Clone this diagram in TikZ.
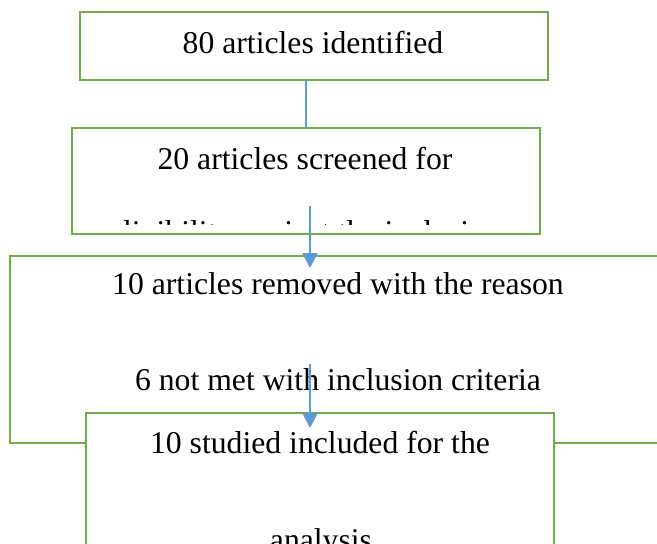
\documentclass[tikz,border=0pt]{standalone}
\usepackage{fontspec}
\setmainfont{Liberation Serif}
\usetikzlibrary{arrows.meta}
\definecolor{boxgreen}{RGB}{112,173,71}
\definecolor{arrowblue}{RGB}{91,155,213}
\tikzset{
  box/.style={draw=boxgreen,line width=2.5pt,fill=white,inner sep=0pt,outer sep=0pt},
  txt/.style={anchor=base,inner sep=0pt,font=\fontsize{31.7}{38}\selectfont},
  link/.style={arrowblue,line width=2.2pt,shorten <=1.25pt,shorten >=1.25pt},
  flow/.style={arrowblue,line width=2.2pt,-{Triangle[width=15pt,length=15pt]}}
}
\begin{document}
\begin{tikzpicture}[x=1pt,y=-1pt]
\useasboundingbox (0,0) rectangle (657,544);
\clip (0,0) rectangle (657,544);
% boxes
\node[box,minimum width=468pt,minimum height=68pt] (ident) at (314,46) {};
\node[box,minimum width=468pt,minimum height=106pt] (screen) at (306,181) {};
\node[box,minimum width=656pt,minimum height=187pt] (removed) at (338,349.5) {};
\node[box,minimum width=468pt,minimum height=200pt] (incl) at (320,513) {};
% texts
\node[txt] (identtxt) at (313,53) {80 articles identified};
\node[txt] (screentxt) at (305,169) {20 articles screened for};
\coordinate (cut) at (0,224);
\begin{scope}
\clip (screen.north west) rectangle (screen.east |- cut);
\node[txt] (screentxtb) at (305,242) {eligibility against the inclusion};
\end{scope}
\node[txt] (removedtxt) at (338,294) {10 articles removed with the reason};
\node[txt] (removedtxtb) at (338,390) {6 not met with inclusion criteria};
\node[txt] (incltxt) at (320,453) {10 studied included for the};
\node[txt] (incltxtb) at (321,550) {analysis};
% connectors
\draw[link] (screen.north |- ident.south) -- (screen.north);
\coordinate (a1) at (310,206);
\coordinate (a2) at (310,268);
\draw[flow] (a1) -- (a2);
\coordinate (a3) at (310,364);
\coordinate (a4) at (310,428);
\draw[flow] (a3) -- (a4);
\end{tikzpicture}
\end{document}
